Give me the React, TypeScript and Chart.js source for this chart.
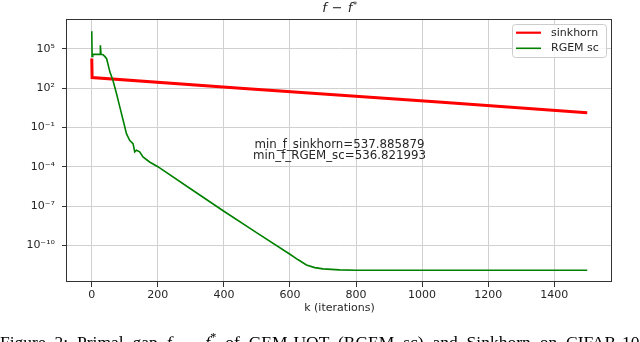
import React, { useEffect, useRef } from 'react';
import { Chart, registerables } from 'chart.js';

Chart.register(...registerables);

// ---- data ----
const SERIES_NAMES = ['sinkhorn', 'RGEM sc'];
const SERIES_COLORS = ['#ff0000', '#008000'];

const SINKHORN_K = [0, 1, 450, 1050, 1500];
const SINKHORN_F = [1.78e4, 631, 98, 8.5, 1.32];

const RGEM_K = [0, 1, 3, 25, 26, 28, 34, 40, 45, 55, 64, 75, 85, 95, 105, 115, 125, 130, 135, 145, 155, 175, 200, 300, 400, 500, 600, 625, 650, 675, 700, 750, 800, 1500];
const RGEM_F = [2.14e6, 2.63e4, 3.7e4, 3.7e4, 1.82e5, 3.7e4, 3.55e4, 2.5e4, 1.74e4, 1.66e3, 389, 37, 3.5, 0.35, 0.033, 0.01, 5.8e-3, 1.35e-3, 1.8e-3, 1.35e-3, 5.6e-4, 2.3e-4, 1e-4, 2e-6, 4e-8, 8.9e-10, 2.1e-11, 7.9e-12, 3.2e-12, 2e-12, 1.6e-12, 1.35e-12, 1.26e-12, 1.26e-12];

const X_TICKS = [0, 200, 400, 600, 800, 1000, 1200, 1400];
const Y_TICKS = [1e-10, 1e-7, 1e-4, 1e-1, 1e2, 1e5];
const Y_TICK_LABELS = ['10⁻¹⁰', '10⁻⁷', '10⁻⁴', '10⁻¹', '10²', '10⁵'];

const X_MIN = -75;
const X_MAX = 1575;
const Y_MIN = 1.6e-13;
const Y_MAX = 1.86e7;

const X_LABEL = 'k (iterations)';
const ANNOTATION_LINES = ['min_f_sinkhorn=537.885879', 'min_f_RGEM_sc=536.821993'];

const FONT = '"DejaVu Sans", sans-serif';
const TEXT_COLOR = '#262626';

const decorPlugin = {
  id: 'decor',
  afterDatasetsDraw(chart: any) {
    const { ctx, chartArea: a } = chart;
    ctx.save();
    // frame (all four spines)
    ctx.strokeStyle = '#333333';
    ctx.lineWidth = 1;
    const l = Math.round(a.left) - 0.5;
    const t = Math.round(a.top) + 0.5;
    const r = Math.round(a.right) - 0.5;
    const b = Math.round(a.bottom) - 0.5;
    ctx.strokeRect(l, t, r - l, b - t);

    // annotation in the middle of the axes
    const cx = (a.left + a.right) / 2;
    const cy = (a.top + a.bottom) / 2;
    ctx.fillStyle = TEXT_COLOR;
    ctx.font = '11.8px ' + FONT;
    ctx.textAlign = 'center';
    ctx.textBaseline = 'middle';
    ANNOTATION_LINES.forEach((line, i) => {
      ctx.fillText(line, cx, cy - 5.85 + i * 11.7);
    });

    // legend box
    const w = 94;
    const h = 33;
    const lx = a.right - 6 - w;
    const ly = a.top + 5;
    ctx.beginPath();
    (ctx as any).roundRect(lx + 0.5, ly + 0.5, w, h, 3);
    ctx.fillStyle = 'rgba(255,255,255,0.8)';
    ctx.fill();
    ctx.strokeStyle = '#cccccc';
    ctx.lineWidth = 1;
    ctx.stroke();
    chart.data.datasets.forEach((ds: any, i: number) => {
      const y = ly + 8.7 + i * 15.6;
      ctx.beginPath();
      ctx.moveTo(lx + 4, y);
      ctx.lineTo(lx + 29, y);
      ctx.strokeStyle = ds.borderColor;
      ctx.lineWidth = Math.min(ds.borderWidth, 2.2);
      ctx.stroke();
      ctx.fillStyle = TEXT_COLOR;
      ctx.font = '11px ' + FONT;
      ctx.textAlign = 'left';
      ctx.textBaseline = 'middle';
      ctx.fillText(ds.label, lx + 39, y);
    });

    // title  f − f*
    const baseY = 11.5;
    const gap = 5;
    ctx.textBaseline = 'alphabetic';
    ctx.textAlign = 'left';
    ctx.font = 'italic 13px ' + FONT;
    const wf = ctx.measureText('f').width;
    ctx.font = '13px ' + FONT;
    const wm = ctx.measureText('−').width;
    ctx.font = '9px ' + FONT;
    const ws = ctx.measureText('*').width;
    const total = wf + gap + wm + gap + wf + ws;
    let x = cx - total / 2;
    ctx.fillStyle = TEXT_COLOR;
    ctx.font = 'italic 13px ' + FONT;
    ctx.fillText('f', x, baseY);
    x += wf + gap;
    ctx.font = '13px ' + FONT;
    ctx.fillText('−', x, baseY);
    x += wm + gap;
    ctx.font = 'italic 13px ' + FONT;
    ctx.fillText('f', x, baseY);
    x += wf + 0.5;
    ctx.font = '9px ' + FONT;
    ctx.fillText('*', x, baseY - 4);
    ctx.restore();
  },
};

export default function App() {
  const ref = useRef<HTMLCanvasElement | null>(null);

  useEffect(() => {
    if (!ref.current) return;
    const sinkhorn = SINKHORN_K.map((k, i) => ({ x: k, y: SINKHORN_F[i] }));
    const rgem = RGEM_K.map((k, i) => ({ x: k, y: RGEM_F[i] }));
    const chart = new Chart(ref.current, {
      type: 'line',
      data: {
        datasets: [
          {
            label: SERIES_NAMES[0],
            data: sinkhorn,
            borderColor: SERIES_COLORS[0],
            backgroundColor: SERIES_COLORS[0],
            borderWidth: 3,
            pointRadius: 0,
            tension: 0,
            fill: false,
            order: 1,
          },
          {
            label: SERIES_NAMES[1],
            data: rgem,
            borderColor: SERIES_COLORS[1],
            backgroundColor: SERIES_COLORS[1],
            borderWidth: 1.6,
            pointRadius: 0,
            tension: 0,
            fill: false,
            order: 0,
          },
        ],
      },
      options: {
        animation: false,
        responsive: false,
        maintainAspectRatio: false,
        devicePixelRatio: 1,
        layout: { padding: { top: 19, right: 28, left: 0, bottom: 0 } },
        plugins: {
          legend: { display: false },
          tooltip: { enabled: false },
          title: { display: false },
        },
        scales: {
          x: {
            type: 'linear',
            min: X_MIN,
            max: X_MAX,
            afterBuildTicks: (s: any) => {
              s.ticks = X_TICKS.map((v) => ({ value: v }));
            },
            afterFit: (s: any) => {
              s.height = 60;
            },
            grid: {
              color: '#d0d0d0',
              lineWidth: 1,
              tickLength: 5,
              tickColor: '#333333',
            },
            border: { display: false },
            ticks: {
              font: { family: FONT, size: 11 },
              color: TEXT_COLOR,
              padding: 2,
              autoSkip: false,
              maxRotation: 0,
              callback: (v: any) => String(v),
            },
            title: {
              display: true,
              text: X_LABEL,
              font: { family: FONT, size: 11 },
              color: TEXT_COLOR,
              padding: { top: 0, bottom: 27 },
            },
          },
          y: {
            type: 'logarithmic',
            min: Y_MIN,
            max: Y_MAX,
            afterBuildTicks: (s: any) => {
              s.ticks = Y_TICKS.map((v) => ({ value: v }));
            },
            afterFit: (s: any) => {
              s.width = 67;
            },
            grid: {
              color: '#d0d0d0',
              lineWidth: 1,
              tickLength: 5,
              tickColor: '#333333',
            },
            border: { display: false },
            ticks: {
              font: { family: FONT, size: 11 },
              color: TEXT_COLOR,
              padding: 7,
              autoSkip: false,
              callback: (v: any) => {
                const i = Y_TICKS.findIndex((t) => Math.abs(Math.log10(t) - Math.log10(v)) < 1e-6);
                return i >= 0 ? Y_TICK_LABELS[i] : '';
              },
            },
          },
        },
      },
      plugins: [decorPlugin],
    } as any);
    return () => chart.destroy();
  }, []);

  return (
    <div
      style={{
        position: 'fixed',
        left: 0,
        top: 0,
        width: 640,
        height: 342,
        overflow: 'hidden',
        background: '#ffffff',
      }}
    >
      <canvas ref={ref} width={640} height={342} style={{ display: 'block', width: 640, height: 342 }} />
      <div
        style={{
          position: 'absolute',
          left: 0,
          top: 333,
          fontFamily: '"Liberation Serif", "Times New Roman", serif',
          fontSize: 17.5,
          lineHeight: '18px',
          wordSpacing: 4.5,
          whiteSpace: 'nowrap',
          color: '#000',
        }}
      >
        Figure 2: Primal gap <i>f</i>
        <sub style={{ fontSize: '70%', lineHeight: 0 }}>k</sub> − <i>f</i>
        <sup style={{ fontSize: '70%', lineHeight: 0 }}>*</sup> of GEM-UOT (RGEM sc) and Sinkhorn on CIFAR-10
      </div>
    </div>
  );
}
